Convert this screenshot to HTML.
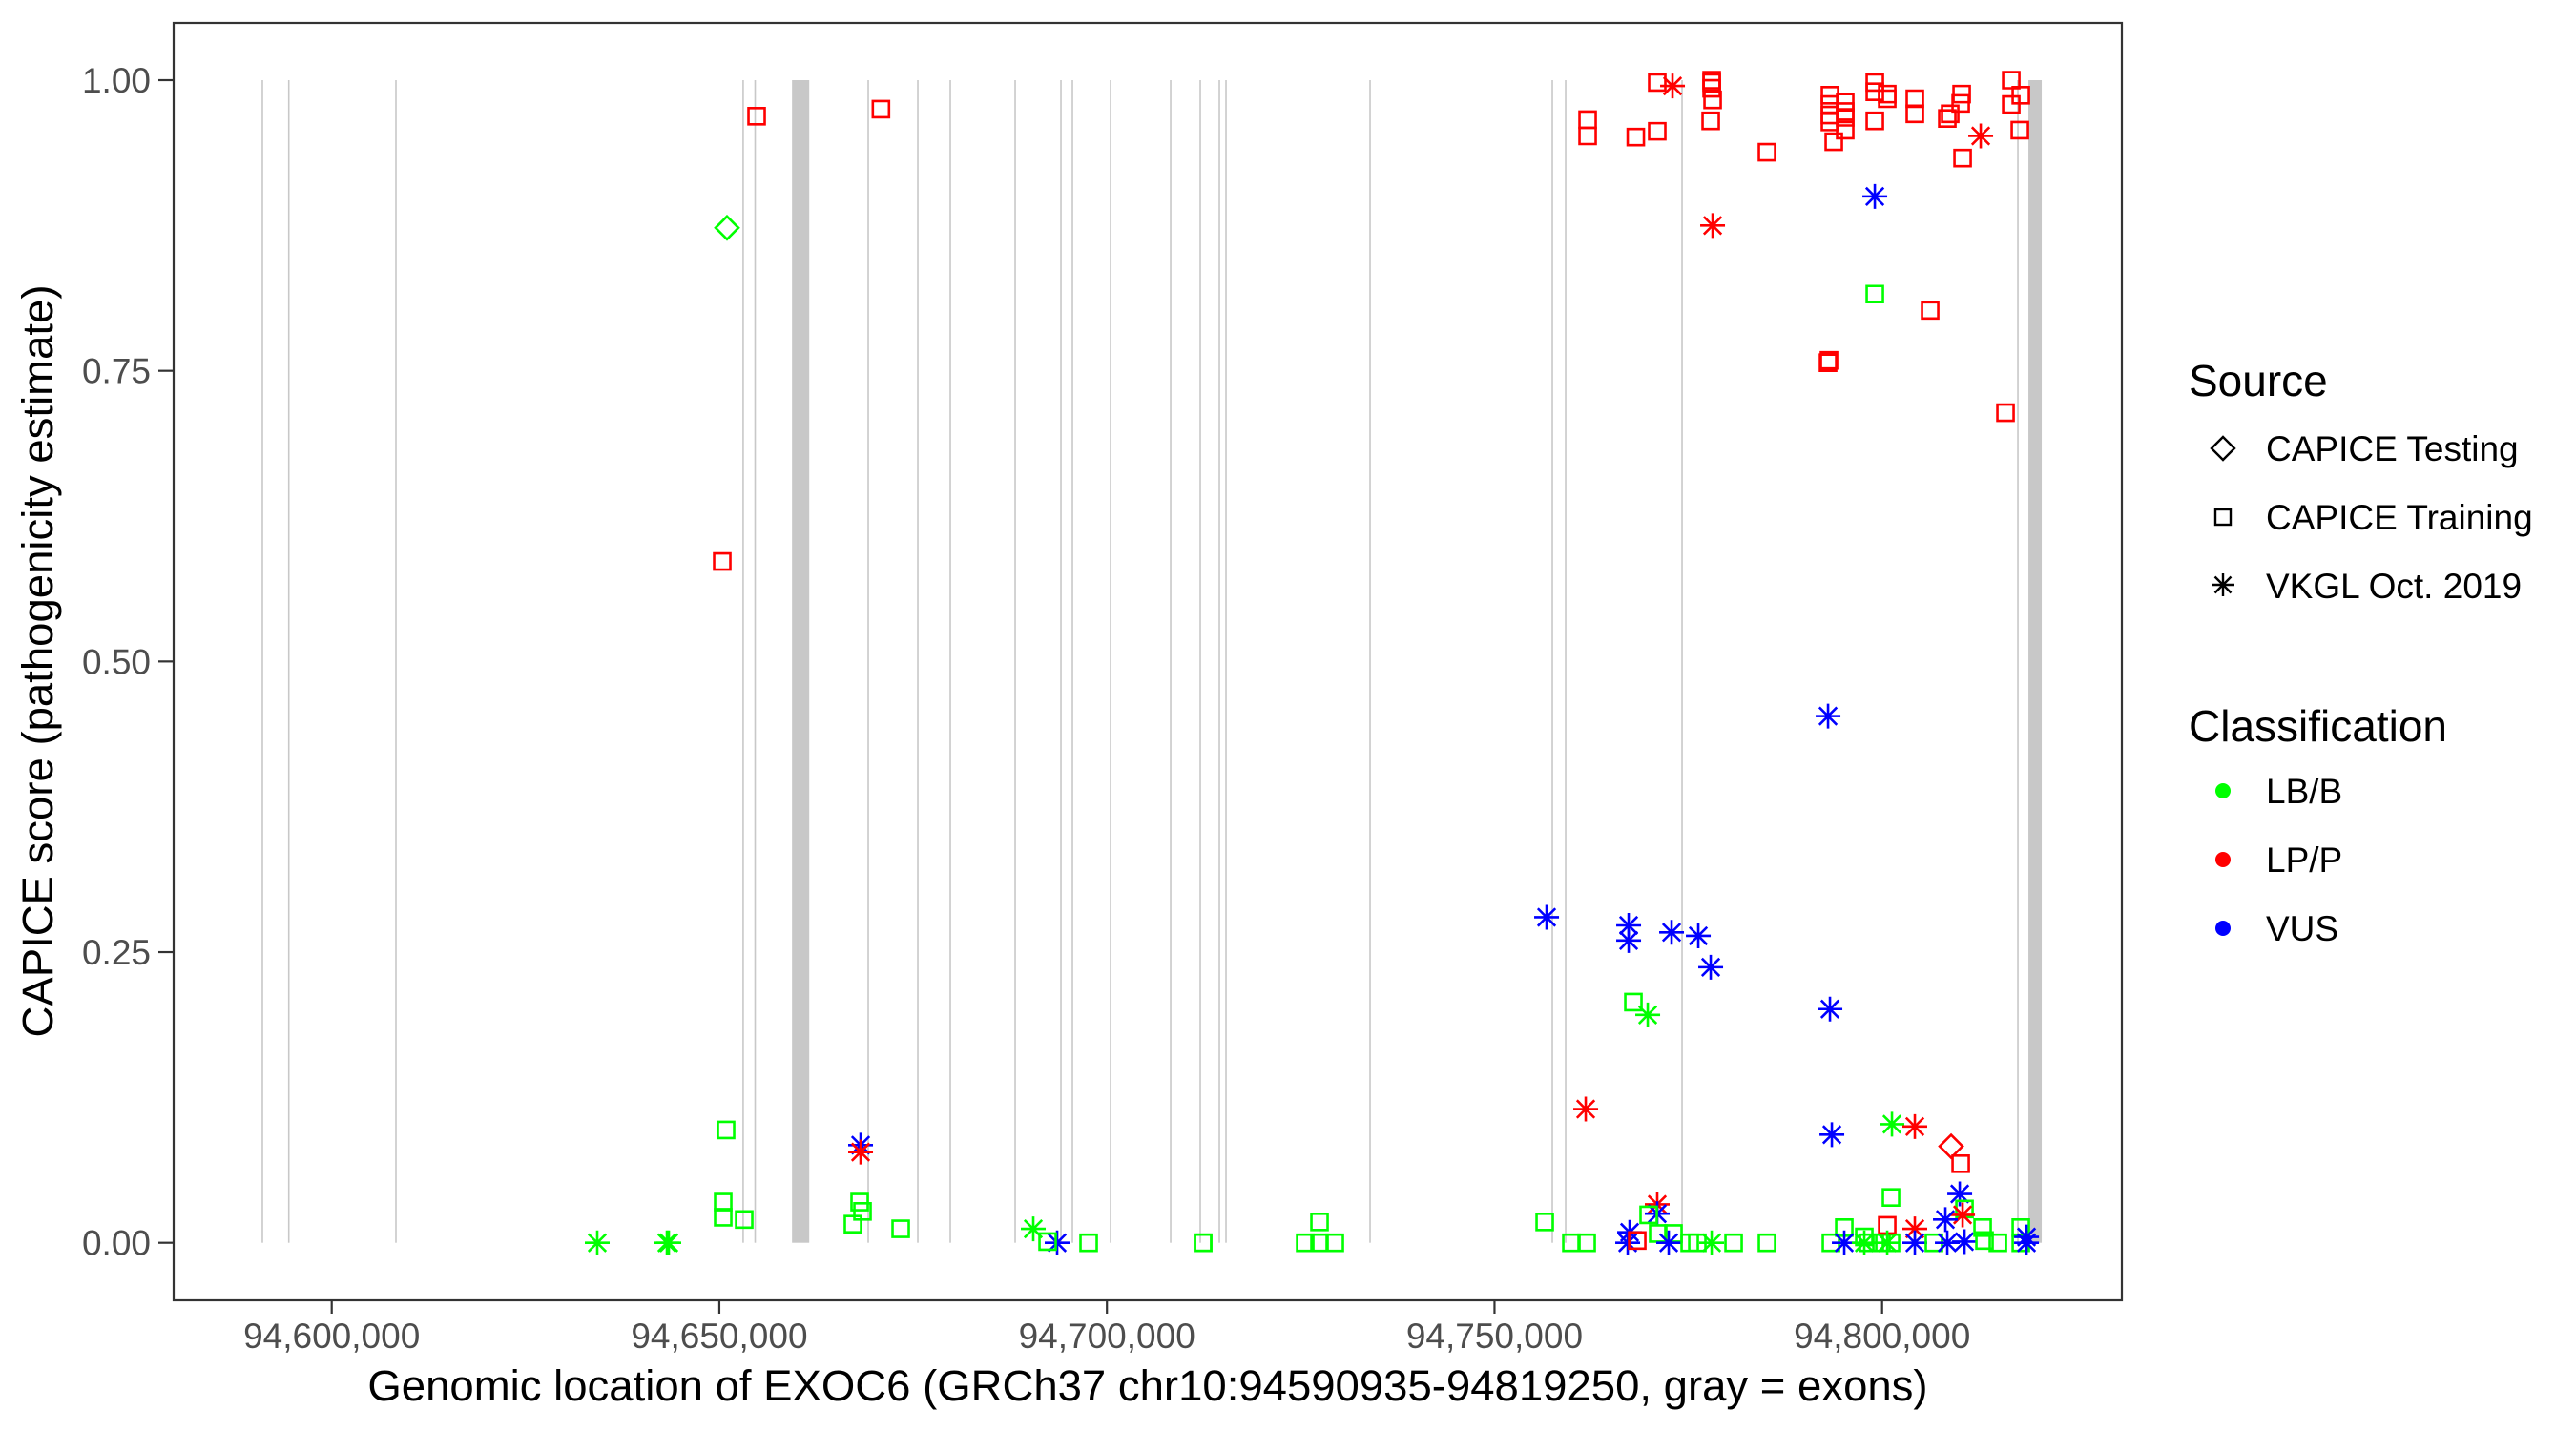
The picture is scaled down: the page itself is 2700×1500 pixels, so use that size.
<!DOCTYPE html>
<html><head><meta charset="utf-8"><style>
html,body{margin:0;padding:0;background:#fff;}
svg{display:block;font-family:"Liberation Sans",Arial,sans-serif;}
</style></head><body>
<svg id="chart" width="2700" height="1500" viewBox="0 0 2700 1500" xmlns="http://www.w3.org/2000/svg">
<rect x="0" y="0" width="2700" height="1500" fill="#fff"/>
<g id="exons"></g>
<g id="points"></g>
<rect x="182" y="24" width="2042" height="1339" fill="none" stroke="#333" stroke-width="2.2"/>
<g id="yaxis"></g>
<g id="xaxis"></g>
<text transform="translate(55,693) rotate(-90)" text-anchor="middle" font-size="45.5" fill="#000">CAPICE score (pathogenicity estimate)</text>
<text x="1203" y="1468" text-anchor="middle" font-size="45.5" fill="#000">Genomic location of EXOC6 (GRCh37 chr10:94590935-94819250, gray = exons)</text>
<g>
<text x="2294" y="415" font-size="46">Source</text>
<path d="M2330,458 l12,12 l-12,12 l-12,-12z" fill="none" stroke="#000" stroke-width="2.4"/>
<text x="2375" y="483" font-size="37">CAPICE Testing</text>
<rect x="2322" y="534" width="16" height="16" fill="none" stroke="#000" stroke-width="2.4"/>
<text x="2375" y="555" font-size="37">CAPICE Training</text>
<path d="M2330,601v24M2318,613h24M2321.5,604.5l17,17M2321.5,621.5l17,-17" stroke="#000" stroke-width="2.4" fill="none"/>
<text x="2375" y="627" font-size="37">VKGL Oct. 2019</text>
<text x="2294" y="777" font-size="46">Classification</text>
<circle cx="2330" cy="829" r="8" fill="#00ff00"/>
<text x="2375" y="842" font-size="37">LB/B</text>
<circle cx="2330" cy="901" r="8" fill="#ff0000"/>
<text x="2375" y="914" font-size="37">LP/P</text>
<circle cx="2330" cy="973" r="8" fill="#0000ff"/>
<text x="2375" y="986" font-size="37">VUS</text>
</g>
</svg>
<script>
const exonStart=[94591052,94594461,94608283,94653074,94654622,94659380,94669208,94675608,94679793,94688162,94694070,94695547,94700470,94708224,94712040,94714500,94715362,94733946,94757455,94759178,94774194,94817518,94818872];
const exonEnd=[94591052,94594461,94608283,94653074,94654622,94661600,94669208,94675608,94679793,94688162,94694070,94695547,94700470,94708224,94712040,94714500,94715362,94733946,94757455,94759178,94774194,94817518,94820595];
const yTicks=[0,0.25,0.5,0.75,1];
const yTickLabels=["0.00","0.25","0.50","0.75","1.00"];
const xTicks=[94600000,94650000,94700000,94750000,94800000];
const xTickLabels=["94,600,000","94,650,000","94,700,000","94,750,000","94,800,000"];
const ptPos=[94634253,94643238,94643484,94650992,94650377,94650869,94650500,94650500,94653208,94654808,94668224,94668224,94668100,94668470,94667238,94673393,94670846,94690501,94693578,94692347,94697639,94712409,94712409,94727425,94725579,94727425,94729394,
94756472,94759918,94761887,94762010,94762010,94761764,94768226,94770991,94770991,94772964,94778011,94778011,94778011,94778134,94777887,94778134,94785149,
94793273,94793273,94793273,94793273,94795239,94795239,94795239,94795239,94793765,94799058,94799058,94799058,94800658,94800658,94804223,94804223,
94810260,94810137,94808780,94808411,94810383,94812719,94816660,94816660,94817891,94817768,94799058,94799058,94806196,94793027,94793150,94815919,94793027,
94756718,94767303,94767303,94772841,94776288,94777887,94767918,94769764,94793273,94793519,94801271,94804223,94808903,94810137,94801148,94810014,94810630,94810383,94808165,
94770991,94770991,94769883,94767426,94767180,94768411,94771114,94773084,94772472,94775180,94776164,94778011,94780842,94785149,
94793396,94795119,94795119,94797704,94798197,94799920,94801148,94800658,94804223,94804223,94806685,94808411,94810630,94812965,94813211,94814935,94817891,94817891,94818629,94818629,94797704,94800658];
const ptScore=[0,0,0,0.873,0.586,0.097,0.035,0.022,0.020,0.969,0.084,0.078,0.035,0.027,0.016,0.012,0.975,0.012,0,0.001,0,0,0,0.018,0,0,0,
0.018,0,0,0.966,0.952,0.115,0.951,0.956,0.998,0.995,1.0,0.998,0.993,0.983,0.965,0.875,0.938,
0.987,0.979,0.970,0.964,0.981,0.973,0.968,0.957,0.947,0.998,0.990,0.965,0.988,0.984,0.984,0.971,
0.988,0.980,0.971,0.967,0.933,0.952,1.0,0.979,0.987,0.957,0.900,0.816,0.802,0.757,0.759,0.714,0.453,
0.280,0.273,0.260,0.267,0.264,0.237,0.207,0.196,0.201,0.093,0.102,0.100,0.083,0.068,0.039,0.042,0.029,0.024,0.020,
0.033,0.025,0.024,0.009,0,0.002,0.008,0.008,0,0,0,0,0,0,
0,0.013,0,0.005,0,0,0,0.015,0.012,0,0,0,0.001,0.013,0.002,0,0.013,0,0.005,0,0,0];
const ptSource=["V","V","V","T","R","R","R","R","R","R","V","V","R","R","R","R","R","V","V","R","R","R","R","R","R","R","R",
"R","R","R","R","R","V","R","R","R","V","R","R","R","R","R","V","R",
"R","R","R","R","R","R","R","R","R","R","R","R","R","R","R","R",
"R","R","R","R","R","V","R","R","R","R","V","R","R","R","R","R","V",
"V","V","V","V","V","V","R","V","V","V","V","V","T","R","R","V","R","V","V",
"V","V","R","V","V","R","R","R","V","R","R","V","R","R",
"R","R","V","R","R","R","R","R","V","V","R","V","V","R","R","R","R","R","V","V","V","V"];
const ptClass=["LB","LB","LB","LB","LP","LB","LB","LB","LB","LP","VUS","LP","LB","LB","LB","LB","LP","LB","VUS","LB","LB","LB","LB","LB","LB","LB","LB",
"LB","LB","LB","LP","LP","LP","LP","LP","LP","LP","LP","LP","LP","LP","LP","LP","LP",
"LP","LP","LP","LP","LP","LP","LP","LP","LP","LP","LP","LP","LP","LP","LP","LP",
"LP","LP","LP","LP","LP","LP","LP","LP","LP","LP","VUS","LB","LP","LP","LP","LP","VUS",
"VUS","VUS","VUS","VUS","VUS","VUS","LB","LB","VUS","VUS","LB","LP","LP","LP","LB","VUS","LB","LP","VUS",
"LP","VUS","LB","VUS","VUS","LP","LB","LB","VUS","LB","LB","LB","LB","LB",
"LB","LB","VUS","LB","LB","LB","LB","LP","LP","VUS","LB","VUS","VUS","LB","LB","LB","LB","LB","VUS","VUS","LB","LB"];

const NS="http://www.w3.org/2000/svg";
function xs(g){return 347.7+(g-94600000)*0.008125;}
function ys(v){return 1302.7-v*1218.7;}
const colors={LB:"#00ff00",LP:"#ff0000",VUS:"#0000ff"};
function mk(tag,parent){const e=document.createElementNS(NS,tag);parent.appendChild(e);return e;}

const gEx=document.getElementById("exons");
for(let i=0;i<exonStart.length;i++){
  const r=mk("rect",gEx);
  
  
  const x0=xs(exonStart[i]),x1=xs(exonEnd[i]);
  const w=Math.max(x1-x0,1.6);
  r.setAttribute("x",x1-x0<1.6?x0-0.8:x0);
  r.setAttribute("y",ys(1));r.setAttribute("width",w);r.setAttribute("height",ys(0)-ys(1));
  r.setAttribute("fill","#c8c8c8");
}
const gY=document.getElementById("yaxis");
for(let i=0;i<yTicks.length;i++){
  const y=ys(yTicks[i]);
  const l=mk("line",gY);
  
  
  l.setAttribute("x1",166);l.setAttribute("x2",182);l.setAttribute("y1",y);l.setAttribute("y2",y);
  l.setAttribute("stroke","#333");l.setAttribute("stroke-width","2.2");
  const t=mk("text",gY);
  
  
  t.setAttribute("x",158);t.setAttribute("y",y+13);t.setAttribute("text-anchor","end");
  t.setAttribute("font-size","37");t.setAttribute("fill","#4d4d4d");t.textContent=yTickLabels[i];
}
const gX=document.getElementById("xaxis");
for(let i=0;i<xTicks.length;i++){
  const x=xs(xTicks[i]);
  const l=mk("line",gX);
  
  
  l.setAttribute("x1",x);l.setAttribute("x2",x);l.setAttribute("y1",1363);l.setAttribute("y2",1377);
  l.setAttribute("stroke","#333");l.setAttribute("stroke-width","2.2");
  const t=mk("text",gX);
  
  
  t.setAttribute("x",x);t.setAttribute("y",1413);t.setAttribute("text-anchor","middle");
  t.setAttribute("font-size","37");t.setAttribute("fill","#4d4d4d");t.textContent=xTickLabels[i];
}
const gP=document.getElementById("points");
for(let i=0;i<ptPos.length;i++){
  const x=xs(ptPos[i]),y=ys(ptScore[i]),c=colors[ptClass[i]];
  const p=mk("path",gP);
  
  
  let d;
  if(ptSource[i]==="R"){d=`M${x-8.5},${y-8.5}h17v17h-17z`;}
  else if(ptSource[i]==="T"){d=`M${x},${y-12}l12,12l-12,12l-12,-12z`;}
  else{d=`M${x},${y-13}v26M${x-13},${y}h26M${x-9.2},${y-9.2}l18.4,18.4M${x-9.2},${y+9.2}l18.4,-18.4`;}
  p.setAttribute("d",d);p.setAttribute("fill","none");p.setAttribute("stroke",c);p.setAttribute("stroke-width","2.6");
}
</script>
</body></html>
